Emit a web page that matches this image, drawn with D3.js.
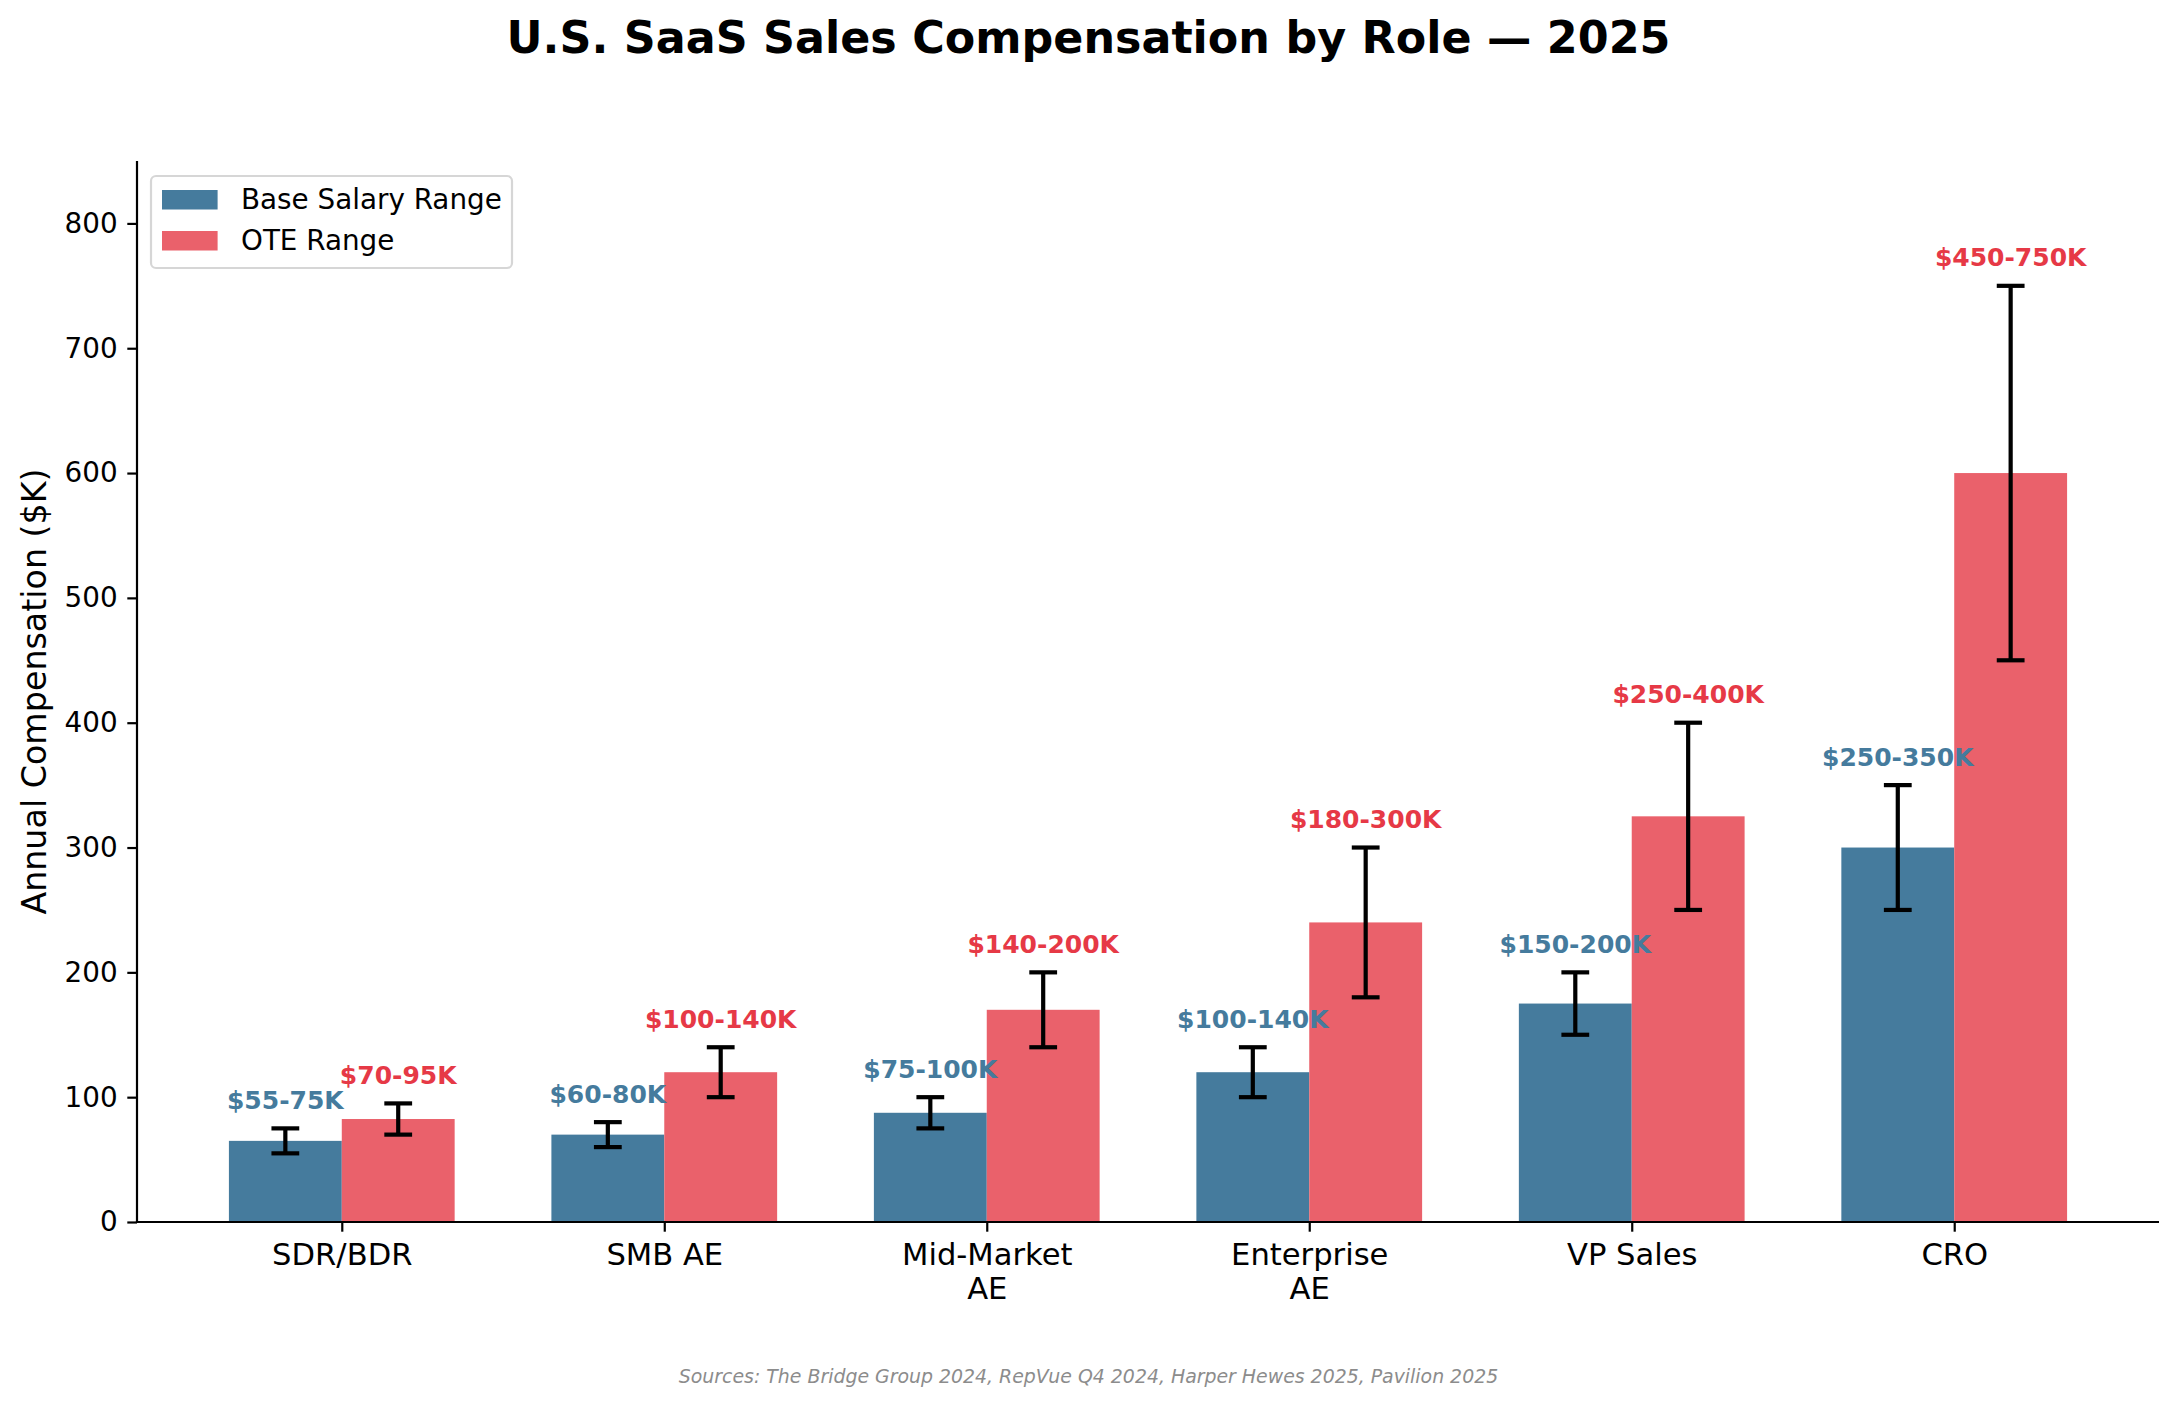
<!DOCTYPE html>
<html>
<head>
<meta charset="utf-8">
<script src="https://cdn.jsdelivr.net/npm/d3@7"></script>
<style>
  html, body { margin: 0; padding: 0; background: #fff; }
  svg { display: block; font-family: "DejaVu Sans", sans-serif; }
</style>
</head>
<body>
<svg id="chart" width="2177" height="1403"></svg>
<script>
// ---- data ----
const roles = ["SDR/BDR", "SMB AE", "Mid-Market\nAE", "Enterprise\nAE", "VP Sales", "CRO"];
const baseLow  = [55, 60, 75, 100, 150, 250];
const baseHigh = [75, 80, 100, 140, 200, 350];
const oteLow   = [70, 100, 140, 180, 250, 450];
const oteHigh  = [95, 140, 200, 300, 400, 750];
const yTicks   = [0, 100, 200, 300, 400, 500, 600, 700, 800];
const seriesNames = ["Base Salary Range", "OTE Range"];

// ---- layout ----
const W = 2177, H = 1403;
const plot = { left: 137, right: 2159, top: 161, bottom: 1222 };
const barW = 0.35;
const blue = "#457b9d", redBar = "#ea616b", redText = "#e63946";

const svg = d3.select("#chart");

const x = d3.scaleLinear().domain([-0.635, roles.length - 1 + 0.635]).range([plot.left, plot.right]);
const y = d3.scaleLinear().domain([0, 850]).range([plot.bottom, plot.top]);

const series = [
  { name: seriesNames[0], lo: baseLow, hi: baseHigh, off: -barW / 2, fill: blue, text: blue },
  { name: seriesNames[1], lo: oteLow, hi: oteHigh, off: barW / 2, fill: redBar, text: redText }
];

// bars
series.forEach(s => {
  const g = svg.append("g");
  roles.forEach((r, i) => {
    const mid = (s.lo[i] + s.hi[i]) / 2;
    const x0 = x(i + s.off - barW / 2), x1 = x(i + s.off + barW / 2);
    g.append("rect")
      .attr("x", x0).attr("width", x1 - x0)
      .attr("y", y(mid)).attr("height", y(0) - y(mid))
      .attr("fill", s.fill);
  });
});

// error bars
series.forEach(s => {
  const g = svg.append("g").attr("stroke", "#000").attr("stroke-width", 4.2).attr("fill", "none");
  roles.forEach((r, i) => {
    const cx = x(i + s.off);
    g.append("line").attr("x1", cx).attr("x2", cx).attr("y1", y(s.lo[i])).attr("y2", y(s.hi[i]));
    [s.lo[i], s.hi[i]].forEach(v => {
      g.append("line").attr("x1", cx - 13.9).attr("x2", cx + 13.9).attr("y1", y(v)).attr("y2", y(v));
    });
  });
});

// value labels
series.forEach(s => {
  roles.forEach((r, i) => {
    svg.append("text")
      .attr("x", x(i + s.off))
      .attr("y", y(s.hi[i]) - 19.5)
      .attr("text-anchor", "middle")
      .attr("font-size", 25)
      .attr("font-weight", "bold")
      .attr("fill", s.text)
      .text(`$${s.lo[i]}-${s.hi[i]}K`);
  });
});

// y axis
const yAxis = d3.axisLeft(y).tickValues(yTicks).tickSize(9.7).tickPadding(9.7).tickFormat(d3.format("d"));
const gy = svg.append("g").attr("transform", `translate(${plot.left},0)`).call(yAxis);
gy.select(".domain").remove();
gy.selectAll(".tick line").attr("stroke", "#000").attr("stroke-width", 2.2);
gy.selectAll(".tick text").attr("font-size", 27.8).attr("font-family", "DejaVu Sans").attr("fill", "#000");
svg.append("line").attr("x1", plot.left).attr("x2", plot.left).attr("y1", plot.top).attr("y2", plot.bottom)
  .attr("stroke", "#000").attr("stroke-width", 2.2);

// x axis
const xAxis = d3.axisBottom(x).tickValues(d3.range(roles.length)).tickSize(9.7).tickFormat(() => "");
const gx = svg.append("g").attr("transform", `translate(0,${plot.bottom})`).call(xAxis);
gx.select(".domain").remove();
gx.selectAll(".tick line").attr("stroke", "#000").attr("stroke-width", 2.2);
gx.selectAll(".tick").each(function(d) {
  const lines = roles[d].split("\n");
  const t = d3.select(this).append("text")
    .attr("text-anchor", "middle").attr("font-size", 30.6).attr("font-family", "DejaVu Sans").attr("fill", "#000");
  lines.forEach((ln, k) => {
    t.append("tspan").attr("x", 0).attr("y", 43 + k * 34).text(ln);
  });
});
svg.append("line").attr("x1", plot.left - 1.1).attr("x2", plot.right).attr("y1", plot.bottom).attr("y2", plot.bottom)
  .attr("stroke", "#000").attr("stroke-width", 2.2);

// y label
svg.append("text")
  .attr("transform", `translate(46,${(plot.top + plot.bottom) / 2}) rotate(-90)`)
  .attr("text-anchor", "middle")
  .attr("font-size", 33.3)
  .attr("fill", "#000")
  .text("Annual Compensation ($K)");

// title
svg.append("text")
  .attr("x", W / 2).attr("y", 53)
  .attr("text-anchor", "middle")
  .attr("font-size", 44.4).attr("font-weight", "bold")
  .attr("fill", "#000")
  .text("U.S. SaaS Sales Compensation by Role \u2014 2025");

// legend
const lg = svg.append("g");
lg.append("rect").attr("x", 151).attr("y", 176).attr("width", 361).attr("height", 92)
  .attr("rx", 5).attr("fill", "#fff").attr("fill-opacity", 0.8)
  .attr("stroke", "#d6d6d6").attr("stroke-width", 2.2);
series.forEach((s, k) => {
  const yy = 190 + k * 41;
  lg.append("rect").attr("x", 162).attr("y", yy).attr("width", 55.6).attr("height", 19.5).attr("fill", s.fill);
  lg.append("text").attr("x", 241).attr("y", yy + 18.5).attr("font-size", 27.8).attr("fill", "#000").text(s.name);
});

// source
svg.append("text")
  .attr("x", W / 2).attr("y", 1383)
  .attr("text-anchor", "middle")
  .attr("font-size", 18.9).attr("font-style", "italic")
  .attr("fill", "#8c8c8c")
  .text("Sources: The Bridge Group 2024, RepVue Q4 2024, Harper Hewes 2025, Pavilion 2025");
</script>
</body>
</html>
